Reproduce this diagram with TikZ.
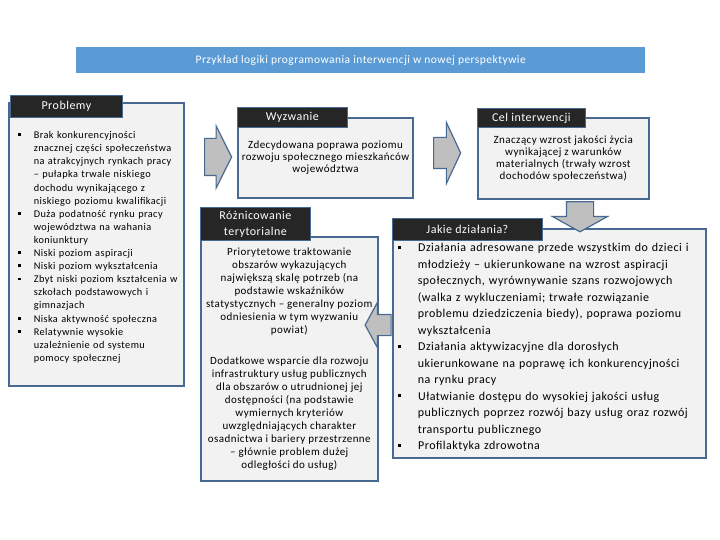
\documentclass[tikz,border=0pt]{standalone}
\usepackage{fontspec}
\setmainfont{Carlito}[LetterSpace=4]
\usepackage{enumitem}
\usetikzlibrary{shapes.arrows, positioning}
\definecolor{tbar}{RGB}{91,155,213}
\definecolor{bord}{RGB}{72,106,146}
\definecolor{hdark}{RGB}{38,38,38}
\definecolor{bodyf}{RGB}{242,242,242}
\definecolor{arrf}{RGB}{191,191,191}
\newlist{pkt}{itemize}{1}
\setlist[pkt]{label={\rule[0.22em]{0.28em}{0.28em}}, nosep, leftmargin=21pt,
  labelsep=13pt, labelwidth=3pt, align=left}

\begin{document}
\begin{tikzpicture}[x=1pt, y=-1pt,
  body/.style={draw=bord, line width=1.6pt, fill=bodyf, anchor=north west,
  inner sep=4pt, align=center, font=\fontsize{11}{11.8}\selectfont},
  head/.style={draw=bord, line width=0.8pt, fill=hdark, text=white,
  anchor=north west, inner sep=1pt, align=center, font=\fontsize{12}{16}\selectfont},
  blk/.style={single arrow, draw=bord, line width=1.2pt, fill=arrf,
  inner xsep=0pt, single arrow head indent=0pt}
]
\useasboundingbox (0,0) rectangle (720,540);

\node[fill=tbar, text=white, anchor=north west, minimum width=569pt, minimum height=26pt,
  font=\fontsize{11.5}{13}\selectfont] (title) at (76,47)
  {Przykład logiki programowania interwencji w nowej perspektywie};

% bodies
\node[body, minimum width=175pt, minimum height=283pt, inner xsep=1pt, text width=173pt, align=left,
  font=\fontsize{10.3}{13.1}\selectfont] (probl) at (8,102) {%
  \begin{pkt}[leftmargin=24pt]
  \item Brak konkurencyjności\\ znacznej części społeczeństwa\\ na atrakcyjnych rynkach pracy\\
    – pułapka trwale niskiego\\ dochodu wynikającego z\\ niskiego poziomu kwalifikacji
  \item Duża podatność rynku pracy\\ województwa na wahania\\ koniunktury
  \item Niski poziom aspiracji
  \item Niski poziom wykształcenia
  \item Zbyt niski poziom kształcenia w\\ szkołach podstawowych i\\ gimnazjach
  \item Niska aktywność społeczna
  \item Relatywnie wysokie\\ uzależnienie od systemu\\ pomocy społecznej
  \end{pkt}};
\node[body, minimum width=173pt, minimum height=80pt] (wyzw) at (237,117)
  {Zdecydowana poprawa poziomu\\ rozwoju społecznego mieszkańców\\ województwa};
\node[body, minimum width=171pt, minimum height=81pt, font=\fontsize{11}{12}\selectfont]
  (cel) at (477,117)
  {Znaczący wzrost jakości życia\\ wynikającej z warunków\\ materialnych (trwały wzrost\\ dochodów społeczeństwa)};
\node[body, minimum width=177pt, minimum height=244pt, font=\fontsize{11}{13}\selectfont]
  (rozn) at (200,236)
  {Priorytetowe traktowanie\\ obszarów wykazujących\\ największą skalę potrzeb (na\\ podstawie wskaźników\\
   statystycznych – generalny poziom\\ odniesienia w tym wyzwaniu\\ powiat)\\[18pt]
   Dodatkowe wsparcie dla rozwoju\\ infrastruktury usług publicznych\\ dla obszarów o utrudnionej jej\\
   dostępności (na podstawie\\ wymiernych kryteriów\\ uwzględniających charakter\\
   osadnictwa i bariery przestrzenne\\ – głównie problem dużej\\ odległości do usług)};
\node[body, minimum width=313pt, minimum height=229pt, text width=305pt, align=left,
  font=\fontsize{12}{16.5}\selectfont] (jakie) at (392,228) {%
  \begin{pkt}[labelsep=17pt]
  \item Działania adresowane przede wszystkim do dzieci i\\ młodzieży – ukierunkowane na wzrost aspiracji\\
    społecznych, wyrównywanie szans rozwojowych\\ (walka z wykluczeniami; trwałe rozwiązanie\\
    problemu dziedziczenia biedy), poprawa poziomu\\ wykształcenia
  \item Działania aktywizacyjne dla dorosłych\\ ukierunkowane na poprawę ich konkurencyjności\\ na rynku pracy
  \item Ułatwianie dostępu do wysokiej jakości usług\\ publicznych poprzez rozwój bazy usług oraz rozwój\\ transportu publicznego
  \item Profilaktyka zdrowotna
  \end{pkt}};

% headers
\node[head, minimum width=112pt, minimum height=22pt] (problHead) at (10,95) {Problemy};
\node[head, minimum width=110pt, minimum height=20pt] (wyzwHead) at (237,107) {Wyzwanie};
\node[head, minimum width=108pt, minimum height=19pt] (celHead) at (477,108) {Cel interwencji};
\node[head, minimum width=110pt, minimum height=33pt] (roznHead) at (200,207) {Różnicowanie\\ terytorialne};
\node[head, minimum width=150pt, minimum height=22pt] (jakieHead) at (392,218) {Jakie działania?};

% block arrows
\node[blk, minimum height=27pt, inner ysep=18pt, single arrow head extend=12.5pt,
  single arrow tip angle=127] (arrA) at (213.5,157) {};
\node[blk, minimum height=27pt, inner ysep=15pt, single arrow head extend=15pt,
  single arrow tip angle=130] (arrB) at (443.5,153) {};
\node[blk, rotate=180, minimum height=26pt, inner ysep=10pt, single arrow head extend=12pt,
  single arrow tip angle=123] (arrC) at (381,325) {};
\node[blk, rotate=-90, minimum height=30pt, inner ysep=13pt, single arrow head extend=14pt,
  single arrow tip angle=122] (arrD) at (580,213) {};
\end{tikzpicture}
\end{document}
